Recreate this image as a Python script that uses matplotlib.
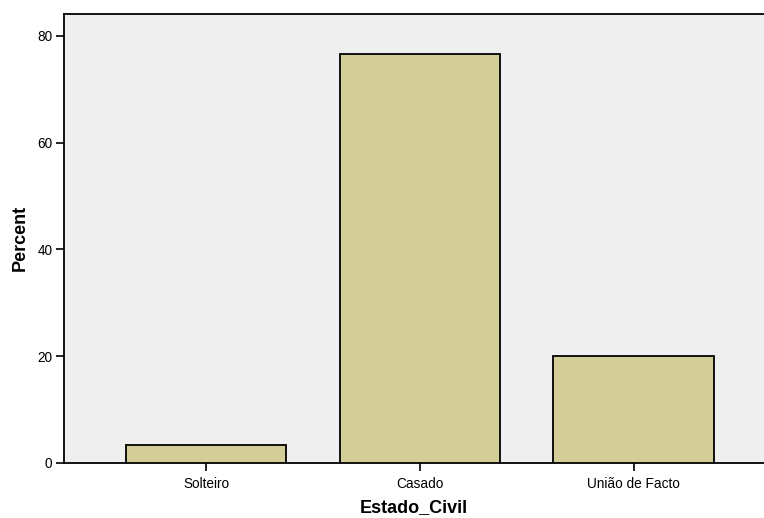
import matplotlib
matplotlib.use("Agg")
import matplotlib.pyplot as plt

categories = ["Solteiro", "Casado", "União de Facto"]
percent = [3.4, 76.7, 20.0]
yticks = [0, 20, 40, 60, 80]

plt.rcParams['font.family'] = ['Liberation Sans', 'DejaVu Sans']

fig = plt.figure(figsize=(7.64, 5.18), dpi=100)
ax = fig.add_axes([63.5/764, 1-463/518, 1-63.5/764, (463-13.5)/518])
ax.set_facecolor('#efefef')
x = list(range(len(categories)))
ax.bar(x, percent, width=0.75, color='#d3ce97', edgecolor='black', linewidth=1.3, zorder=3)
ax.set_xlim(-0.667, 2.61)
ax.set_ylim(0, 84.2)
ax.set_yticks(yticks)
ax.set_xticks(x)
ax.set_xticklabels(categories, fontsize=9.8)
ax.tick_params(axis='y', labelsize=9.8, length=6, width=1.2, pad=2)
ax.tick_params(axis='x', length=6, width=1.2, pad=4)
for s in ['left', 'bottom', 'top']:
    ax.spines[s].set_linewidth(1.3)
ax.spines['right'].set_visible(False)
ax.set_ylabel('Percent', fontsize=13, fontweight='bold', labelpad=6)
ax.set_xlabel('Estado_Civil', fontsize=13, fontweight='bold', labelpad=6)
fig.savefig('out.png', dpi=100)
